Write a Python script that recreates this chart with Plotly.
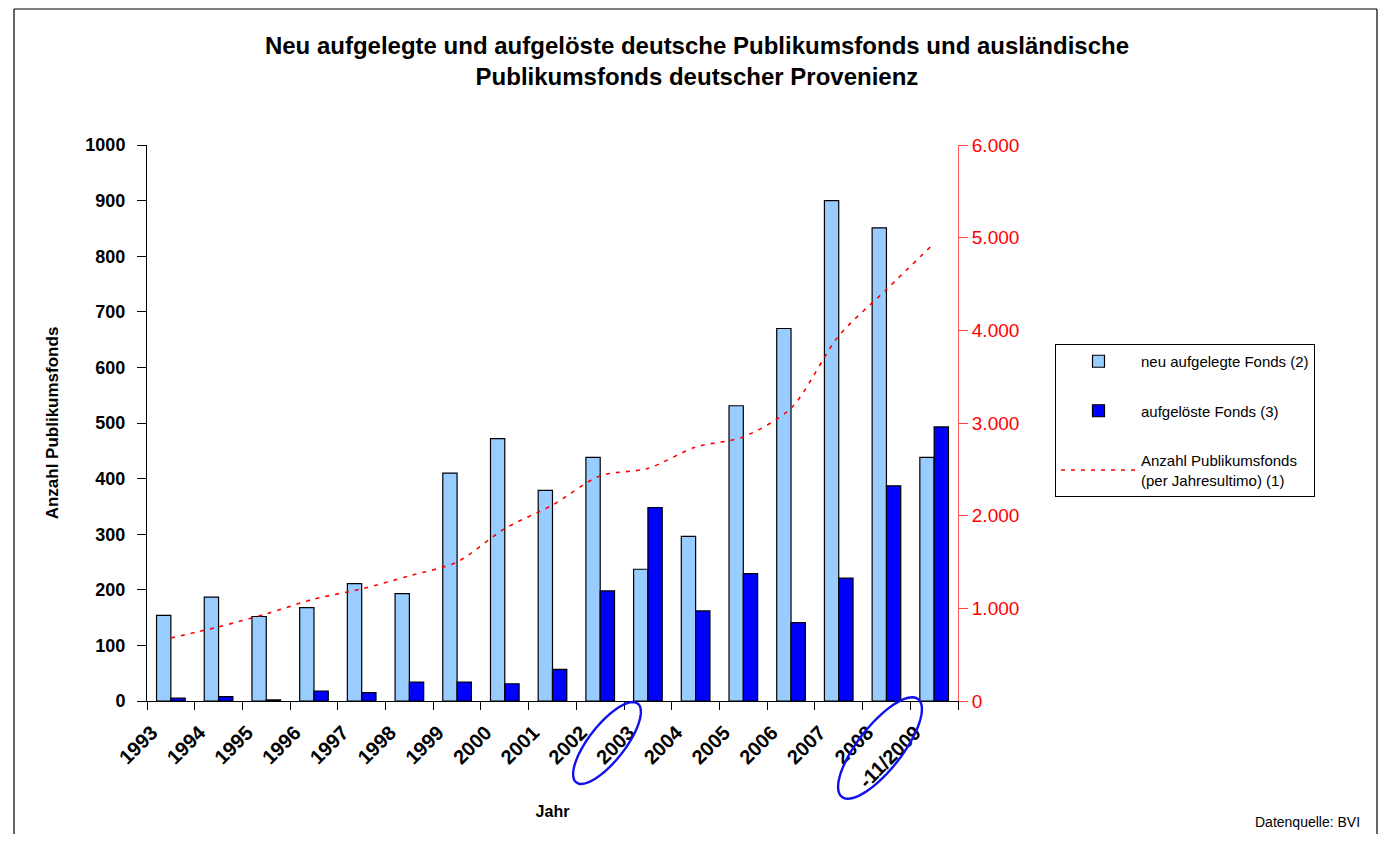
import math
import plotly.graph_objects as go

# ---- data ----
years = ["1993", "1994", "1995", "1996", "1997", "1998", "1999", "2000", "2001",
         "2002", "2003", "2004", "2005", "2006", "2007", "2008", "-11/2009"]
neu_aufgelegt = [154, 187, 152, 168, 211, 193, 410, 472, 379, 438, 237, 296, 531, 670, 900, 851, 438]
aufgeloest = [5, 8, 2, 18, 15, 34, 34, 31, 57, 198, 348, 162, 229, 141, 221, 387, 493]
anzahl_fonds = [680, 800, 940, 1100, 1210, 1350, 1500, 1860, 2115, 2430, 2510, 2740, 2850, 3160, 3940, 4440, 4940]
right_ticks = [0, 1000, 2000, 3000, 4000, 5000, 6000]
right_ticktext = ["0", "1.000", "2.000", "3.000", "4.000", "5.000", "6.000"]

OFF = 8  # page body margin
W, H = 1387 - 2 * OFF, 842 - 2 * OFF
# plot area in reference (screen) pixels
L, R, T, B = 147, 958, 145, 701

def px(x):
    return (x - L) / (R - L)

def py(y):
    return (B - y) / (B - T)

FONT = "Liberation Sans, Arial, sans-serif"

fig = go.Figure()
fig.add_trace(go.Bar(
    x=years, y=neu_aufgelegt, name="neu aufgelegte Fonds (2)",
    marker=dict(color="#99CCFF", line=dict(color="black", width=1.2)),
    legendgroup="a",
))
fig.add_trace(go.Bar(
    x=years, y=aufgeloest, name="aufgelöste Fonds (3)",
    marker=dict(color="#0000FF", line=dict(color="black", width=1.2)),
    legendgroup="b",
))
fig.add_trace(go.Scatter(
    x=years, y=anzahl_fonds, yaxis="y2", mode="lines",
    name="Anzahl Publikumsfonds<br>(per Jahresultimo) (1)",
    line=dict(color="#FF0000", width=1.6, dash="4px,6px", shape="spline", smoothing=0.8),
    legendgroup="c",
))

shapes = []
# outer frame (left, top, right lines)
frame = dict(color="black", width=1.2)
shapes.append(dict(type="line", xref="paper", yref="paper",
                   x0=px(14), x1=px(14), y0=py(842), y1=py(9), line=frame, layer="below"))
shapes.append(dict(type="line", xref="paper", yref="paper",
                   x0=px(14), x1=px(1377), y0=py(9), y1=py(9), line=frame, layer="below"))
shapes.append(dict(type="line", xref="paper", yref="paper",
                   x0=px(1377), x1=px(1377), y0=py(842), y1=py(9), line=frame, layer="below"))

def ellipse(cx, cy, a, b, ang_deg):
    ang = math.radians(ang_deg)
    pts = []
    for i in range(73):
        t = 2 * math.pi * i / 72
        ex, ey = a * math.cos(t), b * math.sin(t)
        x = cx + ex * math.cos(ang) - ey * math.sin(ang)
        y = cy + ex * math.sin(ang) + ey * math.cos(ang)
        pts.append((px(x), py(y)))
    d = "M " + " L ".join(f"{x:.5f},{y:.5f}" for x, y in pts) + " Z"
    return dict(type="path", xref="paper", yref="paper", path=d,
                line=dict(color="#1010F0", width=2.4))

shapes.append(ellipse(607, 743, 50, 18, -52))
shapes.append(ellipse(880, 748, 62, 22, -52))

fig.update_layout(
    width=W, height=H,
    margin=dict(l=L - OFF, r=W - (R - OFF), t=T - OFF, b=H - (B - OFF)),
    paper_bgcolor="white", plot_bgcolor="white",
    barmode="group", bargap=0.4, bargroupgap=0.0,
    font=dict(family=FONT, color="black"),
    title=dict(
        text="<b>Neu aufgelegte und aufgelöste deutsche Publikumsfonds und ausländische<br>Publikumsfonds deutscher Provenienz</b>",
        x=(697 - OFF) / W, xref="container", xanchor="center",
        y=1 - (54 - OFF) / H, yref="container", yanchor="middle",
        font=dict(size=24, family=FONT, color="black"),
    ),
    xaxis=dict(
        type="category", showline=True, linecolor="black", linewidth=1,
        ticks="outside", ticklen=8, tickcolor="black", tickson="boundaries",
        tickangle=-45, ticklabelshift=-19, ticklabelstandoff=11, automargin=False,
        tickfont=dict(size=20, family=FONT, color="black", weight="bold"),
        showgrid=False, zeroline=False,
        title=dict(text="<b>Jahr</b>", font=dict(size=16, family=FONT), standoff=14),
    ),
    yaxis=dict(
        range=[0, 1000], dtick=100, showline=True, linecolor="black", linewidth=1,
        ticks="outside", ticklen=9, tickcolor="black", showgrid=False, zeroline=False,
        ticklabelstandoff=8, automargin=False,
        tickfont=dict(size=18, family=FONT, color="black", weight="bold"),
        title=dict(text="<b>Anzahl Publikumsfonds</b>", font=dict(size=17, family=FONT), standoff=22),
    ),
    yaxis2=dict(
        range=[0, 6000], overlaying="y", side="right",
        tickvals=right_ticks, ticktext=right_ticktext,
        showline=True, linecolor="rgba(255,0,0,0.65)", linewidth=1,
        ticks="outside", ticklen=9, tickcolor="rgba(255,0,0,0.75)",
        showgrid=False, zeroline=False, automargin=False,
        tickfont=dict(size=19, family=FONT, color="#FF0000"),
    ),
    legend=dict(
        x=px(1055), xanchor="left", y=py(344), yanchor="top",
        bgcolor="white", bordercolor="black", borderwidth=1,
        font=dict(size=15, family=FONT, color="black"),
        tracegroupgap=27, itemwidth=75, traceorder="grouped",
    ),
    shapes=shapes,
    annotations=[
        dict(text="Datenquelle: BVI", xref="paper", yref="paper",
             x=px(1362), y=py(822), xanchor="right", yanchor="middle",
             showarrow=False, font=dict(size=14, family=FONT, color="black")),
    ],
)

fig.write_html("out.html")
